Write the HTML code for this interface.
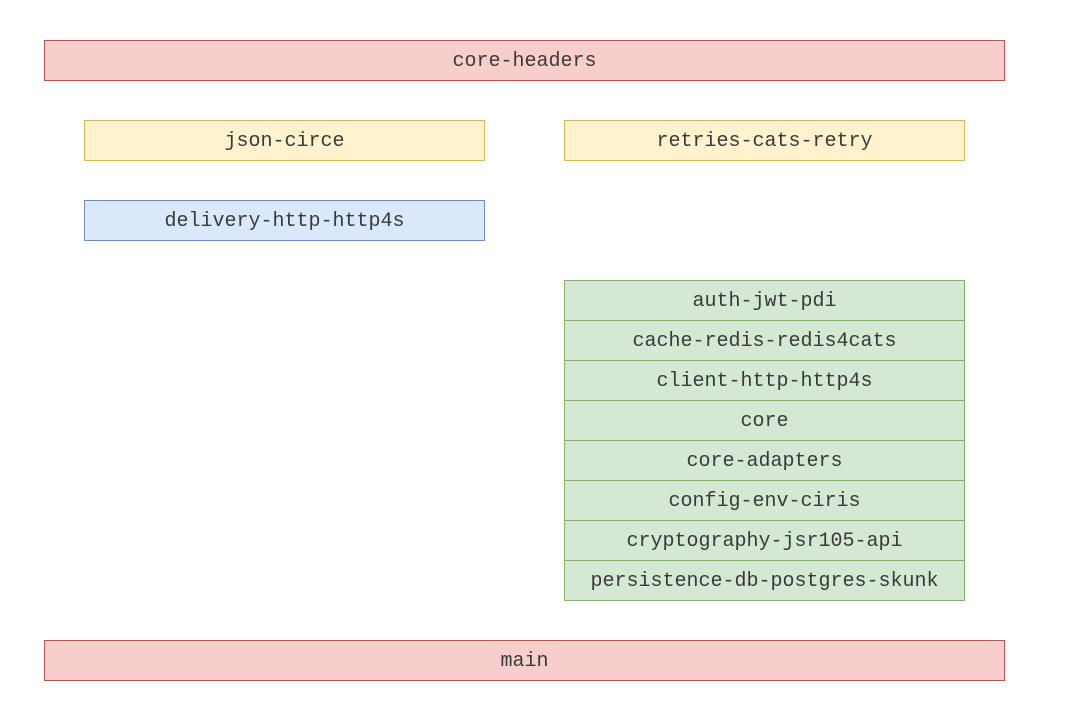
<!DOCTYPE html>
<html><head><style>
body{margin:0;width:1079px;height:721px;background:#fff;position:relative;overflow:hidden}
.b{position:absolute;box-sizing:border-box;border:1px solid;display:flex;align-items:center;justify-content:center;font-family:"Liberation Mono",monospace;font-size:20px;color:#3a3a3a;height:41px;padding-top:2px}
.r{background:#f8cecc;border-color:#b85450}
.y{background:#fff2cc;border-color:#d6b656}
.bl{background:#dae8fc;border-color:#6c8ebf}
.g{background:#d5e8d4;border-color:#82b366}
</style></head><body>
<div class="b r" style="left:44px;top:40px;width:961px">core-headers</div>
<div class="b y" style="left:84px;top:120px;width:401px">json-circe</div>
<div class="b y" style="left:564px;top:120px;width:401px">retries-cats-retry</div>
<div class="b bl" style="left:84px;top:200px;width:401px">delivery-http-http4s</div>
<div class="b g" style="left:564px;top:280px;width:401px">auth-jwt-pdi</div>
<div class="b g" style="left:564px;top:320px;width:401px">cache-redis-redis4cats</div>
<div class="b g" style="left:564px;top:360px;width:401px">client-http-http4s</div>
<div class="b g" style="left:564px;top:400px;width:401px">core</div>
<div class="b g" style="left:564px;top:440px;width:401px">core-adapters</div>
<div class="b g" style="left:564px;top:480px;width:401px">config-env-ciris</div>
<div class="b g" style="left:564px;top:520px;width:401px">cryptography-jsr105-api</div>
<div class="b g" style="left:564px;top:560px;width:401px">persistence-db-postgres-skunk</div>
<div class="b r" style="left:44px;top:640px;width:961px">main</div>
</body></html>
